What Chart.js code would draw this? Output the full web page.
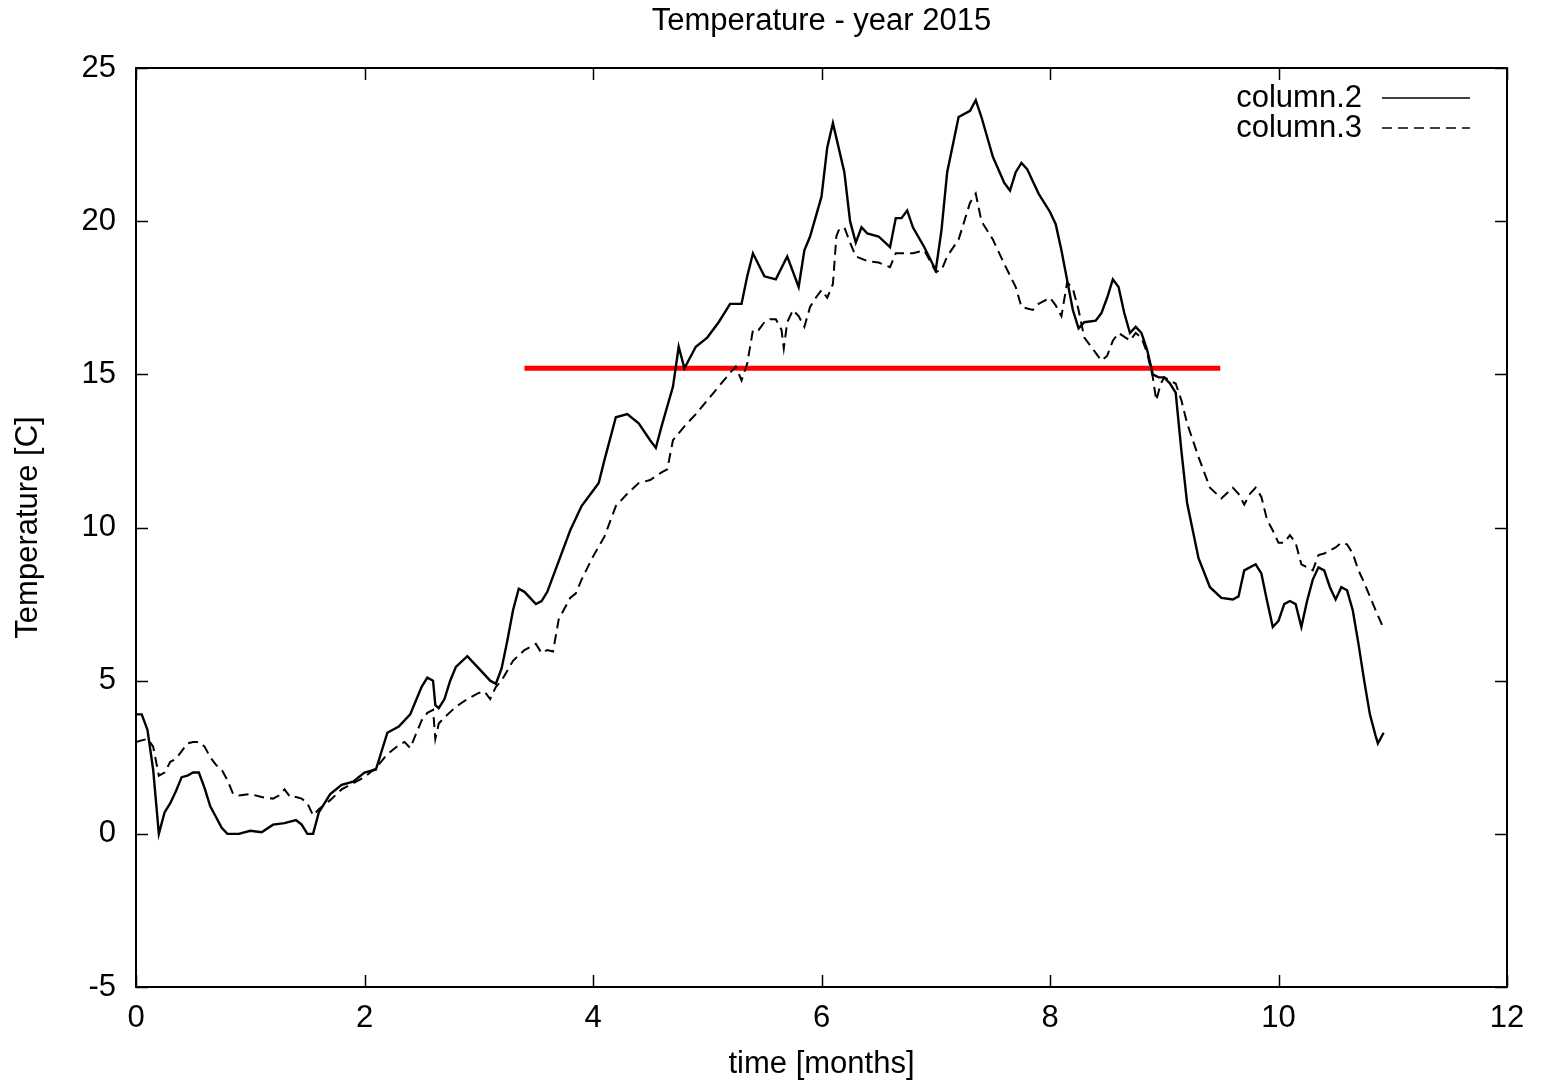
<!DOCTYPE html>
<html>
<head>
<meta charset="utf-8">
<title>Temperature - year 2015</title>
<script src="https://cdn.jsdelivr.net/npm/chart.js@4.4.0/dist/chart.umd.min.js"></script>
<style>
  html, body { margin: 0; padding: 0; background: #fff; }
  #wrap { width: 1541px; height: 1083px; }
</style>
</head>
<body>
<div id="wrap"><canvas id="tempChart" width="1541" height="1083"></canvas></div>
<script>
// column.2 (solid)
const months2 = [0,0.05,0.1,0.15,0.2,0.25,0.3,0.35,0.4,0.45,
  0.5,0.55,0.6,0.65,0.7,0.75,0.8,0.9,1.0,1.1,
  1.2,1.3,1.4,1.45,1.5,1.55,1.6,1.7,1.8,1.9,
  2.0,2.1,2.2,2.3,2.4,2.5,2.55,2.6,2.62,2.65,
  2.7,2.75,2.8,2.9,3.0,3.1,3.15,3.2,3.25,3.3,
  3.35,3.4,3.5,3.55,3.6,3.7,3.8,3.9,4.0,4.05,
  4.1,4.2,4.3,4.4,4.5,4.55,4.6,4.7,4.75,4.8,
  4.9,5.0,5.1,5.2,5.3,5.35,5.4,5.5,5.6,5.7,
  5.8,5.85,5.9,6.0,6.05,6.1,6.15,6.2,6.25,6.3,
  6.35,6.4,6.5,6.6,6.65,6.7,6.75,6.8,6.9,7.0,
  7.05,7.1,7.2,7.3,7.35,7.4,7.5,7.6,7.65,7.7,
  7.75,7.8,7.9,8.0,8.05,8.1,8.2,8.25,8.3,8.4,
  8.45,8.5,8.55,8.6,8.65,8.7,8.75,8.8,8.85,8.9,
  8.95,9.0,9.05,9.1,9.15,9.2,9.3,9.4,9.5,9.6,
  9.65,9.7,9.8,9.85,9.9,9.95,10.0,10.05,10.1,10.15,
  10.2,10.25,10.3,10.35,10.4,10.45,10.5,10.55,10.6,10.65,
  10.7,10.75,10.8,10.85,10.87,10.92];
const temp2 = [3.9,3.9,3.4,2.1,0.0,0.7,1.0,1.4,1.85,1.9,
  2.0,2.0,1.5,0.9,0.55,0.2,0.0,0.0,0.1,0.05,
  0.3,0.35,0.45,0.3,0.0,0.0,0.7,1.3,1.6,1.7,
  2.0,2.1,3.3,3.5,3.9,4.8,5.1,5.0,4.2,4.1,
  4.4,5.0,5.45,5.8,5.4,5.0,4.9,5.4,6.3,7.3,
  8.0,7.9,7.5,7.6,7.9,8.9,9.9,10.7,11.2,11.45,
  12.2,13.6,13.7,13.4,12.85,12.6,13.3,14.6,15.9,15.2,
  15.9,16.2,16.7,17.3,17.3,18.2,18.95,18.2,18.1,18.85,
  17.85,19.05,19.5,20.8,22.4,23.2,22.4,21.6,20.0,19.3,
  19.8,19.6,19.5,19.15,20.1,20.1,20.35,19.8,19.15,18.4,
  19.7,21.6,23.4,23.6,23.95,23.4,22.1,21.25,21.0,21.6,
  21.9,21.7,20.9,20.3,19.9,19.05,17.1,16.5,16.7,16.75,
  17.0,17.5,18.1,17.85,17.0,16.35,16.55,16.35,15.8,15.0,
  14.9,14.9,14.7,14.4,12.5,10.8,9.0,8.05,7.7,7.65,
  7.75,8.6,8.8,8.5,7.6,6.75,6.95,7.5,7.6,7.5,
  6.75,7.6,8.3,8.7,8.6,8.05,7.65,8.05,7.95,7.3,
  6.2,5.0,3.9,3.2,2.95,3.3];

// column.3 (dashed)
const months3 = [0,0.05,0.1,0.15,0.2,0.25,0.3,0.35,0.4,0.45,
  0.5,0.55,0.6,0.65,0.7,0.75,0.8,0.85,0.9,1.0,
  1.1,1.2,1.25,1.3,1.35,1.4,1.45,1.5,1.55,1.6,
  1.7,1.8,1.9,2.0,2.1,2.2,2.3,2.35,2.4,2.5,
  2.55,2.6,2.62,2.65,2.7,2.8,2.9,3.0,3.05,3.1,
  3.15,3.2,3.3,3.4,3.5,3.55,3.6,3.65,3.7,3.8,
  3.85,3.9,4.0,4.1,4.2,4.3,4.4,4.5,4.6,4.65,
  4.7,4.8,4.9,5.0,5.1,5.2,5.25,5.3,5.35,5.4,
  5.45,5.5,5.55,5.6,5.65,5.67,5.7,5.75,5.8,5.85,
  5.9,5.95,6.0,6.05,6.1,6.13,6.15,6.2,6.25,6.3,
  6.4,6.5,6.6,6.65,6.7,6.8,6.9,7.0,7.05,7.1,
  7.2,7.3,7.35,7.4,7.5,7.6,7.7,7.75,7.8,7.85,
  7.9,8.0,8.05,8.1,8.15,8.2,8.25,8.3,8.4,8.45,
  8.5,8.55,8.6,8.7,8.75,8.8,8.85,8.9,8.93,8.97,
  9.0,9.1,9.15,9.2,9.3,9.4,9.5,9.6,9.65,9.7,
  9.75,9.8,9.85,9.9,9.95,10.0,10.05,10.1,10.15,10.2,
  10.25,10.3,10.35,10.4,10.5,10.55,10.6,10.65,10.7,10.75,
  10.8,10.85,10.92];
const temp3 = [3.0,3.05,3.1,2.85,1.9,2.0,2.35,2.45,2.7,2.95,
  3.0,3.0,2.85,2.5,2.25,2.1,1.75,1.3,1.25,1.3,
  1.2,1.15,1.25,1.45,1.2,1.2,1.15,1.0,0.6,0.8,
  1.1,1.45,1.65,1.85,2.15,2.6,2.9,3.0,2.8,3.7,
  3.95,4.05,3.1,3.6,3.8,4.15,4.4,4.6,4.65,4.4,
  4.8,5.0,5.65,6.0,6.2,5.9,6.0,5.95,7.0,7.7,
  7.85,8.3,9.05,9.7,10.7,11.1,11.45,11.55,11.8,11.9,
  12.85,13.3,13.7,14.15,14.6,15.05,15.25,14.8,15.35,16.45,
  16.45,16.7,16.8,16.8,16.45,15.85,16.7,17.1,16.9,16.55,
  17.2,17.5,17.75,17.5,17.95,19.5,19.7,19.8,19.3,18.85,
  18.7,18.65,18.5,18.95,18.95,18.95,19.05,18.35,18.4,18.85,
  19.4,20.6,20.9,20.0,19.4,18.6,17.85,17.2,17.15,17.1,
  17.3,17.5,17.25,16.9,18.0,17.8,17.1,16.2,15.7,15.45,
  15.6,16.1,16.35,16.1,16.35,16.2,15.7,14.9,14.15,14.7,
  14.9,14.7,14.15,13.4,12.3,11.3,10.95,11.3,11.1,10.75,
  11.1,11.3,11.0,10.25,9.9,9.5,9.5,9.75,9.5,8.8,
  8.7,8.6,9.1,9.15,9.35,9.5,9.45,9.15,8.6,8.2,
  7.75,7.3,6.7];

// red marker line
const markerMonths = [3.4, 9.49];
const markerTemp = [15.2, 15.2];

const xTicks = [0, 2, 4, 6, 8, 10, 12];
const yTicks = [-5, 0, 5, 10, 15, 20, 25];

const FONT = '"Liberation Sans", Arial, Helvetica, sans-serif';
const FS = 31;

const toPoints = (xs, ys) => xs.map((x, i) => ({ x: x, y: ys[i] }));

// gnuplot-style frame with inward ticks on all four sides
const framePlugin = {
  id: 'frame',
  afterDatasetsDraw(chart) {
    const { ctx, chartArea: a, scales } = chart;
    const len = 12;
    ctx.save();
    ctx.strokeStyle = '#000';
    ctx.lineWidth = 2;
    ctx.strokeRect(a.left, a.top, a.right - a.left, a.bottom - a.top);
    ctx.lineWidth = 1.5;
    ctx.beginPath();
    xTicks.forEach(v => {
      const px = Math.round(scales.x.getPixelForValue(v)) + 0.5;
      ctx.moveTo(px, a.bottom); ctx.lineTo(px, a.bottom - len);
      ctx.moveTo(px, a.top); ctx.lineTo(px, a.top + len);
    });
    yTicks.forEach(v => {
      const py = Math.round(scales.y.getPixelForValue(v)) + 0.5;
      ctx.moveTo(a.left, py); ctx.lineTo(a.left + len, py);
      ctx.moveTo(a.right, py); ctx.lineTo(a.right - len, py);
    });
    ctx.stroke();
    ctx.restore();
  }
};

// legend inside the top right corner: text then line sample
const keyPlugin = {
  id: 'key',
  afterDraw(chart) {
    const { ctx, chartArea: a } = chart;
    const items = chart.data.datasets.filter(d => d.label);
    ctx.save();
    ctx.font = FS + 'px ' + FONT;
    ctx.fillStyle = '#000';
    ctx.textAlign = 'right';
    ctx.textBaseline = 'middle';
    items.forEach((d, i) => {
      const y = a.top + 30 + i * 30;
      ctx.fillText(d.label, a.right - 145, y);
      ctx.strokeStyle = d.borderColor;
      ctx.lineWidth = 1.5;
      ctx.setLineDash(d.borderDash || []);
      ctx.beginPath();
      ctx.moveTo(a.right - 125, y);
      ctx.lineTo(a.right - 37, y);
      ctx.stroke();
    });
    ctx.restore();
  }
};

new Chart(document.getElementById('tempChart'), {
  type: 'line',
  data: {
    datasets: [
      {
        label: 'column.2',
        data: toPoints(months2, temp2),
        borderColor: '#000',
        borderWidth: 2.4,
        pointRadius: 0,
        tension: 0
      },
      {
        label: 'column.3',
        data: toPoints(months3, temp3),
        borderColor: '#000',
        borderWidth: 2,
        borderDash: [10, 6],
        pointRadius: 0,
        tension: 0
      },
      {
        label: '',
        data: toPoints(markerMonths, markerTemp),
        borderColor: '#ff0000',
        borderWidth: 5,
        pointRadius: 0,
        tension: 0
      }
    ]
  },
  options: {
    responsive: false,
    animation: false,
    layout: { padding: { left: 0, right: 34, top: 0, bottom: 0 } },
    plugins: {
      legend: { display: false },
      tooltip: { enabled: false },
      title: {
        display: true,
        fullSize: false,
        text: 'Temperature - year 2015',
        color: '#000',
        font: { family: FONT, size: FS, weight: 'normal', lineHeight: 1.2 },
        padding: { top: 3, bottom: 27.8 }
      }
    },
    scales: {
      x: {
        type: 'linear',
        min: 0,
        max: 12,
        afterFit: s => { s.height = 96; },
        afterBuildTicks: s => { s.ticks = xTicks.map(v => ({ value: v })); },
        grid: { display: false, drawTicks: false },
        border: { display: false },
        ticks: { color: '#000', padding: 13, maxRotation: 0, font: { family: FONT, size: FS } },
        title: {
          display: true,
          text: 'time [months]',
          color: '#000',
          font: { family: FONT, size: FS, lineHeight: 1.2 },
          padding: { top: 0, bottom: 0 }
        }
      },
      y: {
        type: 'linear',
        min: -5,
        max: 25,
        afterFit: s => { s.width = 136; },
        afterBuildTicks: s => { s.ticks = yTicks.map(v => ({ value: v })); },
        grid: { display: false, drawTicks: false },
        border: { display: false },
        ticks: { color: '#000', padding: 20, font: { family: FONT, size: FS } },
        title: {
          display: true,
          text: 'Temperature [C]',
          color: '#000',
          font: { family: FONT, size: FS, lineHeight: 1.2 },
          padding: { top: 10, bottom: 0 }
        }
      }
    }
  },
  plugins: [framePlugin, keyPlugin]
});
</script>
</body>
</html>
